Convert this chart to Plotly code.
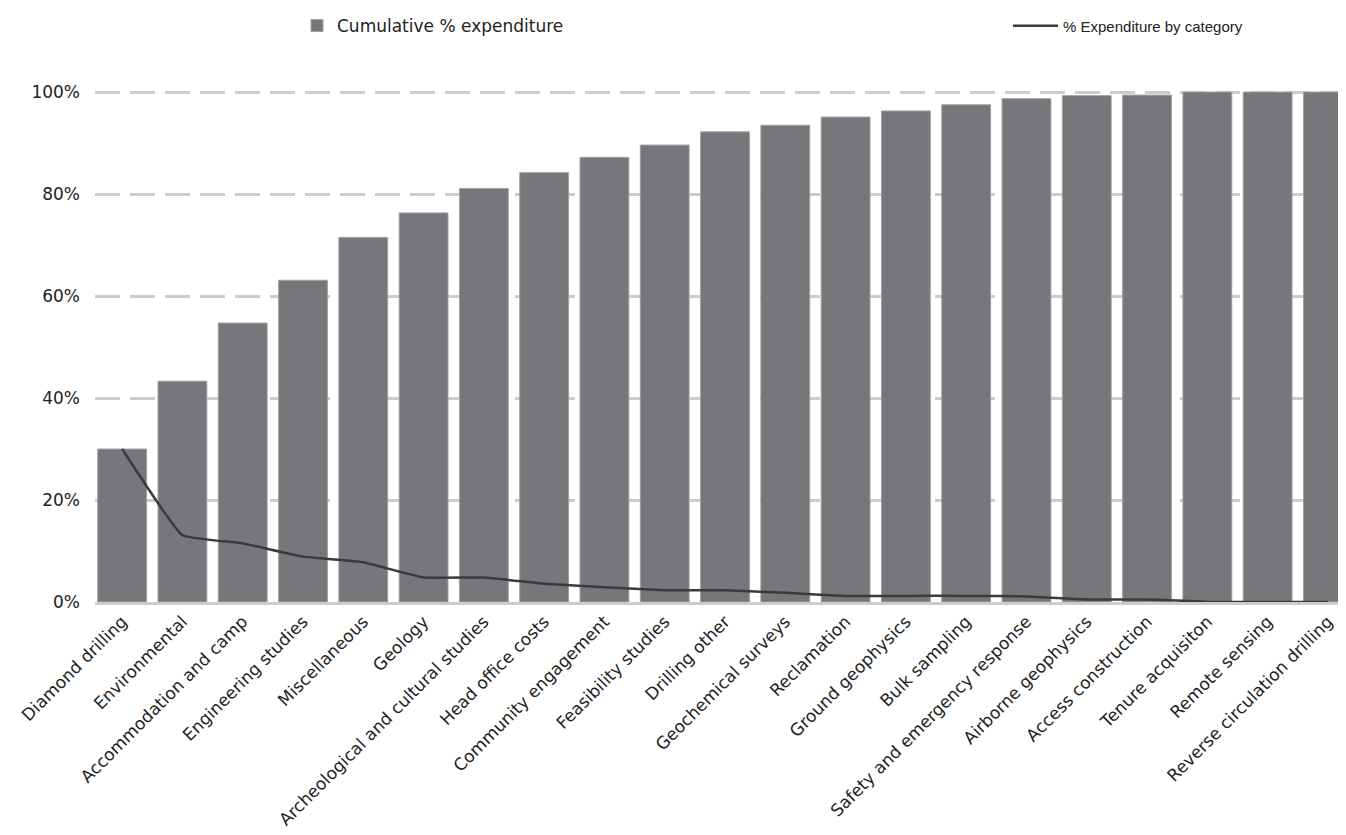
import plotly.graph_objects as go

categories = ["Diamond drilling", "Environmental", "Accommodation and camp",
              "Engineering studies", "Miscellaneous", "Geology",
              "Archeological and cultural studies", "Head office costs",
              "Community engagement", "Feasibility studies", "Drilling other",
              "Geochemical surveys", "Reclamation", "Ground geophysics",
              "Bulk sampling", "Safety and emergency response",
              "Airborne geophysics", "Access construction",
              "Tenure acquisiton", "Remote sensing",
              "Reverse circulation drilling"]

cumulative = [30.0, 43.3, 54.7, 63.1, 71.5, 76.3, 81.1, 84.2, 87.2, 89.6, 92.2,
              93.5, 95.1, 96.3, 97.5, 98.7, 99.3, 99.4, 100.0, 100.0, 100.0]

by_category = [30.0, 13.1, 11.5, 8.9, 7.8, 4.8, 4.8, 3.6, 2.9, 2.3, 2.3,
               1.8, 1.2, 1.2, 1.2, 1.1, 0.5, 0.5, 0.05, 0.0, 0.0]

y_ticks = [0, 20, 40, 60, 80, 100]
y_labels = ["{}%".format(v) for v in y_ticks]

fig = go.Figure()
fig.add_trace(go.Bar(x=categories,
                     y=cumulative,
                     name='Cumulative % expenditure',
                     marker=dict(color='#77777b', line=dict(color='#a0a0a4', width=1)),
                     legend='legend'))
fig.add_trace(go.Scatter(x=categories,
                         y=by_category,
                         mode='lines',
                         name='% Expenditure by category',
                         line=dict(color='#3a3a3c', width=2.5, shape='spline', smoothing=0.3),
                         legend='legend2'))

# page body has an 8px margin, so figure is a bit smaller than the window
fig.update_layout(width=1338,
                  height=827,
                  margin=dict(l=87, r=0, t=81, b=233),
                  bargap=0.19,
                  showlegend=True,
                  paper_bgcolor='white',
                  plot_bgcolor='white',
                  font=dict(family='DejaVu Sans', size=15, color='#222222'),
                  legend=dict(orientation='h', xref='container', yref='container',
                              x=(337 - 8 - 40) / 1338, y=1 - 18 / 827, yanchor='middle',
                              font=dict(family='DejaVu Sans', size=17, color='#222222')),
                  legend2=dict(orientation='h', xref='container', yref='container',
                               x=(1064 - 8 - 56) / 1338, y=1 - 18 / 827, yanchor='middle',
                               itemwidth=45,
                               font=dict(family='Liberation Sans', size=15, color='#222222')))

fig.update_xaxes(range=[-0.45, 20.3],
                 tickangle=-45,
                 tickfont=dict(family='DejaVu Sans', size=17, color='#222222'),
                 showline=True, linecolor='#cccccc', linewidth=3,
                 showgrid=False, ticks='')
fig.update_yaxes(range=[0, 100.6],
                 tickvals=y_ticks,
                 ticktext=y_labels,
                 tickfont=dict(family='DejaVu Sans', size=17, color='#222222'),
                 showgrid=True, gridcolor='#cccccc', gridwidth=2.5,
                 griddash='25px,10px',
                 zeroline=False, showline=False,
                 ticklabelstandoff=14)

fig.write_html("out.html")
